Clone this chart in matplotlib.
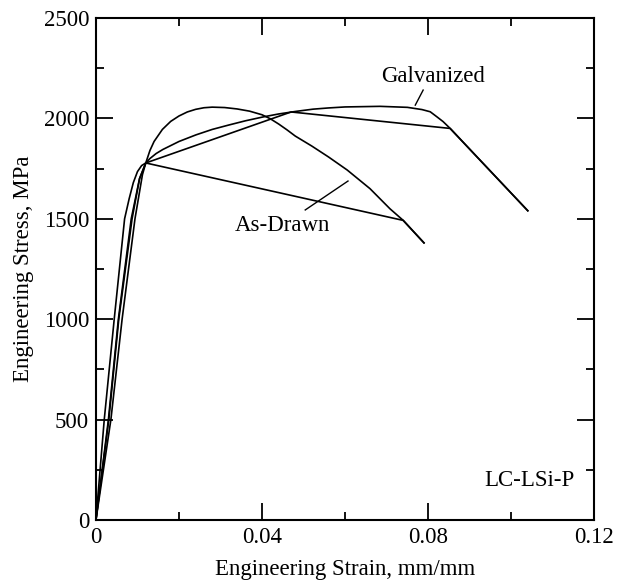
import matplotlib.pyplot as plt
from matplotlib.ticker import MultipleLocator

# ---------------------------- data ----------------------------
# As-Drawn, specimen 1 (rounded peak)
ad1_strain = [0, 0.002, 0.0044, 0.0069, 0.0080, 0.0090, 0.0100, 0.0110, 0.0120,
              0.013, 0.014, 0.016, 0.018, 0.020, 0.022, 0.024, 0.026, 0.028, 0.031,
              0.034, 0.037, 0.040, 0.042, 0.044, 0.046, 0.048, 0.052, 0.056, 0.0605,
              0.066, 0.0708, 0.074, 0.079]
ad1_stress = [0, 500, 1000, 1500, 1600, 1680, 1735, 1765, 1778,
              1840, 1885, 1945, 1985, 2012, 2032, 2045, 2053, 2056, 2054,
              2047, 2036, 2018, 1998, 1972, 1943, 1912, 1862, 1808, 1743,
              1650, 1550, 1492, 1380]

# As-Drawn, specimen 2 (missing data -> straight segment)
ad2_strain = [0, 0.0030, 0.0054, 0.0085, 0.0105, 0.0120, 0.074, 0.079]
ad2_stress = [0, 500, 1000, 1500, 1700, 1778, 1492, 1380]

# Galvanized, specimen 1 (plateau)
gv1_strain = [0, 0.0031, 0.0055, 0.0087, 0.0105, 0.0120, 0.013, 0.0145, 0.0161, 0.020,
              0.0241, 0.028, 0.032, 0.036, 0.0402, 0.044, 0.0482, 0.0523, 0.056, 0.060,
              0.0684, 0.075, 0.0785, 0.0805, 0.0821, 0.0836, 0.0853, 0.0925, 0.1040]
gv1_stress = [0, 500, 1000, 1500, 1700, 1778, 1800, 1825, 1845, 1885,
              1918, 1945, 1967, 1988, 2007, 2022, 2035, 2046, 2052, 2057,
              2060, 2055, 2044, 2033, 2008, 1984, 1950, 1792, 1540]

# Galvanized, specimen 2 (straight segments)
gv2_strain = [0, 0.0036, 0.0063, 0.0094, 0.0112, 0.0120, 0.0470, 0.0853, 0.1040]
gv2_stress = [0, 500, 1000, 1500, 1720, 1778, 2032, 1950, 1540]

# ---------------------------- plot ----------------------------
plt.rcParams['font.family'] = ['Liberation Serif', 'DejaVu Serif']
plt.rcParams['font.size'] = 16.5

fig = plt.figure(figsize=(6.19, 5.84), dpi=100)
ax = fig.add_axes([0.155, 0.1096, 0.805, 0.8596])

for xs, ys in [(ad1_strain, ad1_stress), (ad2_strain, ad2_stress),
               (gv1_strain, gv1_stress), (gv2_strain, gv2_stress)]:
    ax.plot(xs, ys, color='black', lw=1.2)

ax.set_xlim(0, 0.12)
ax.set_ylim(0, 2500)
ax.xaxis.set_major_locator(MultipleLocator(0.04))
ax.xaxis.set_minor_locator(MultipleLocator(0.02))
ax.yaxis.set_major_locator(MultipleLocator(500))
ax.yaxis.set_minor_locator(MultipleLocator(250))
ax.set_xticks([0, 0.04, 0.08, 0.12], ['0', '0.04', '0.08', '0.12'])
ax.tick_params(which='both', direction='in', top=True, right=True, width=1.3)
ax.tick_params(which='major', length=12, pad=5)
ax.tick_params(which='minor', length=6)
for s in ax.spines.values():
    s.set_linewidth(1.5)

ax.set_xlabel('Engineering Strain, mm/mm', labelpad=8)
ax.set_ylabel('Engineering Stress, MPa', labelpad=6.5)

ax.text(0.0813, 2211, 'Galvanized', ha='center', va='center')
ax.plot([0.0788, 0.0769], [2141, 2066], color='black', lw=1)
ax.text(0.0448, 1469, 'As-Drawn', ha='center', va='center')
ax.plot([0.0504, 0.0607], [1544, 1688], color='black', lw=1)
ax.text(0.1152, 195, 'LC-LSi-P', ha='right', va='center')

fig.savefig('out.png', dpi=100)
